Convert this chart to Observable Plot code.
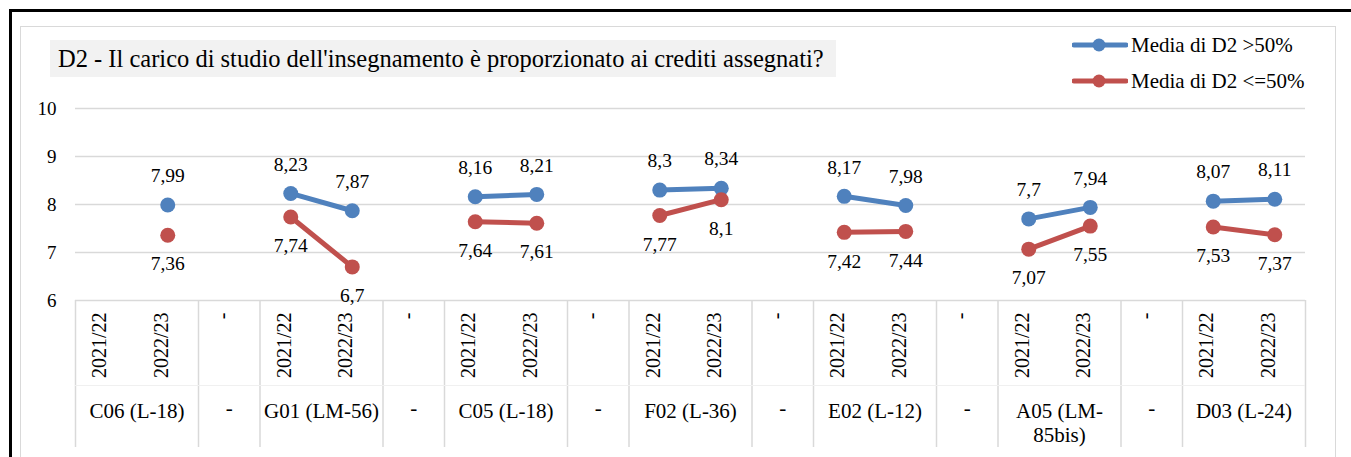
<!DOCTYPE html>
<html>
<head>
<meta charset="utf-8">
<script src="https://cdn.jsdelivr.net/npm/d3@7"></script>
<script src="https://cdn.jsdelivr.net/npm/@observablehq/plot@0.6"></script>
<style>
  html, body { margin: 0; padding: 0; background: #fff; }
  body { width: 1351px; height: 457px; position: relative; overflow: hidden; font-family: 'Liberation Serif'; }
  #outer { position: absolute; left: 9px; top: 9px; width: 1400px; height: 500px; border-left: 3px solid #000; border-top: 3px solid #000; }
  #inner { position: absolute; left: 20px; top: 26px; width: 1314px; height: 500px; border: 1.5px solid #d9d9d9; }
  #title { position: absolute; left: 50px; top: 40px; width: 786px; height: 37px; background: #f2f2f2; font-family: 'Liberation Serif'; font-size: 24.5px; line-height: 37px; padding-left: 8px; box-sizing: border-box; color: #000; white-space: nowrap; }
  #legend { position: absolute; left: 1072px; top: 27px; font-family: 'Liberation Serif'; font-size: 21px; color: #000; }
  .item { display: flex; align-items: center; height: 36px; }
  .item svg { margin-right: 3px; }
  #chart { position: absolute; left: 0; top: 0; }
</style>
</head>
<body>
<div id="outer"></div>
<div id="inner"></div>
<div id="title"></div>
<div id="legend"></div>
<div id="chart"></div>
<script>
// ---- data ----
const title = "D2 - Il carico di studio dell'insegnamento è proporzionato ai crediti assegnati?";
const groups = ["C06 (L-18)", "G01 (LM-56)", "C05 (L-18)", "F02 (L-36)", "E02 (L-12)", "A05 (LM-\n85bis)", "D03 (L-24)"];
const years = ["2021/22", "2022/23"];
const separator = "-";
const seriesNames = ["Media di D2 >50%", "Media di D2 <=50%"];
const seriesColors = ["#4f81bd", "#c0504d"];
const above50 = [[null, 7.99], [8.23, 7.87], [8.16, 8.21], [8.3, 8.34], [8.17, 7.98], [7.7, 7.94], [8.07, 8.11]];
const below50 = [[null, 7.36], [7.74, 6.7], [7.64, 7.61], [7.77, 8.1], [7.42, 7.44], [7.07, 7.55], [7.53, 7.37]];
const yTicks = [6, 7, 8, 9, 10];

// ---- derived tables ----
const slotOf = (g, y) => g * 3 + y;
const points = [];
[above50, below50].forEach((series, s) => {
  series.forEach((pair, g) => {
    pair.forEach((v, y) => {
      if (v != null) points.push({series: seriesNames[s], group: groups[g], slot: slotOf(g, y), value: v});
    });
  });
});
const yearLabels = [];
groups.forEach((g, gi) => years.forEach((yr, yi) => yearLabels.push({slot: slotOf(gi, yi), label: yr})));
const dashSlots = d3.range(groups.length - 1).map(g => g * 3 + 2);
const groupLabels = groups.map((g, gi) => ({pos: gi * 3 + 0.5, label: g}));
const boundaries = [-0.5];
groups.forEach((g, gi) => {
  boundaries.push(gi * 3 + 1.5);
  if (gi < groups.length - 1) boundaries.push(gi * 3 + 2.5);
});
const fmt = v => String(v).replace(".", ",");

// ---- title & legend ----
document.getElementById("title").textContent = title;
const legend = document.getElementById("legend");
seriesNames.forEach((n, i) => {
  const div = document.createElement("div");
  div.className = "item";
  div.innerHTML = `<svg width="56" height="16"><line x1="2" x2="54" y1="8" y2="8" stroke="${seriesColors[i]}" stroke-width="5" stroke-linecap="round"/><circle cx="27" cy="8" r="6.5" fill="${seriesColors[i]}"/></svg><span></span>`;
  div.querySelector("span").textContent = n;
  legend.appendChild(div);
});

// ---- chart ----
const W = 1351, H = 457;
const chart = Plot.plot({
  width: W,
  height: H,
  marginLeft: 75,
  marginRight: 46,
  marginTop: 108,
  marginBottom: 157,
  style: {background: "transparent", fontFamily: "'Liberation Serif'", fontSize: "19px", color: "#000"},
  x: {domain: [-0.5, 19.5], axis: null},
  y: {domain: [6, 10], axis: null},
  color: {domain: seriesNames, range: seriesColors},
  marks: [
    Plot.ruleY(yTicks, {stroke: "#d9d9d9", strokeWidth: 1.5}),
    Plot.axisY({ticks: yTicks, tickSize: 0, tickPadding: 19, fontSize: 19, tickFormat: d => d, label: null}),
    Plot.ruleX(boundaries, {stroke: "#d9d9d9", strokeWidth: 1.5, insetTop: 192, insetBottom: -147}),
    Plot.ruleY([6], {stroke: "#f0f0f0", strokeWidth: 1, dy: 85}),
    Plot.text(yearLabels, {x: "slot", text: "label", frameAnchor: "bottom", rotate: -90, textAnchor: "end", dy: 12, fontSize: 20}),
    Plot.text(dashSlots, {x: d => d, text: () => separator, frameAnchor: "bottom", rotate: -90, textAnchor: "end", dy: 12, fontSize: 20}),
    Plot.text(groupLabels, {x: "pos", text: "label", frameAnchor: "bottom", lineAnchor: "top", lineHeight: 1.15, dy: 100, fontSize: 21}),
    Plot.text(dashSlots, {x: d => d, text: () => separator, frameAnchor: "bottom", lineAnchor: "top", dy: 100, fontSize: 21}),
    Plot.line(points, {x: "slot", y: "value", z: d => d.series + d.group, stroke: "series", strokeWidth: 5, strokeLinecap: "round"}),
    Plot.dot(points, {x: "slot", y: "value", fill: "series", r: 7.5}),
    Plot.text(points.filter(d => d.series === seriesNames[0]), {x: "slot", y: "value", text: d => fmt(d.value), dy: -29, fontSize: 19.5}),
    Plot.text(points.filter(d => d.series === seriesNames[1]), {x: "slot", y: "value", text: d => fmt(d.value), dy: 29, fontSize: 19.5})
  ]
});
document.getElementById("chart").appendChild(chart);
</script>
</body>
</html>
